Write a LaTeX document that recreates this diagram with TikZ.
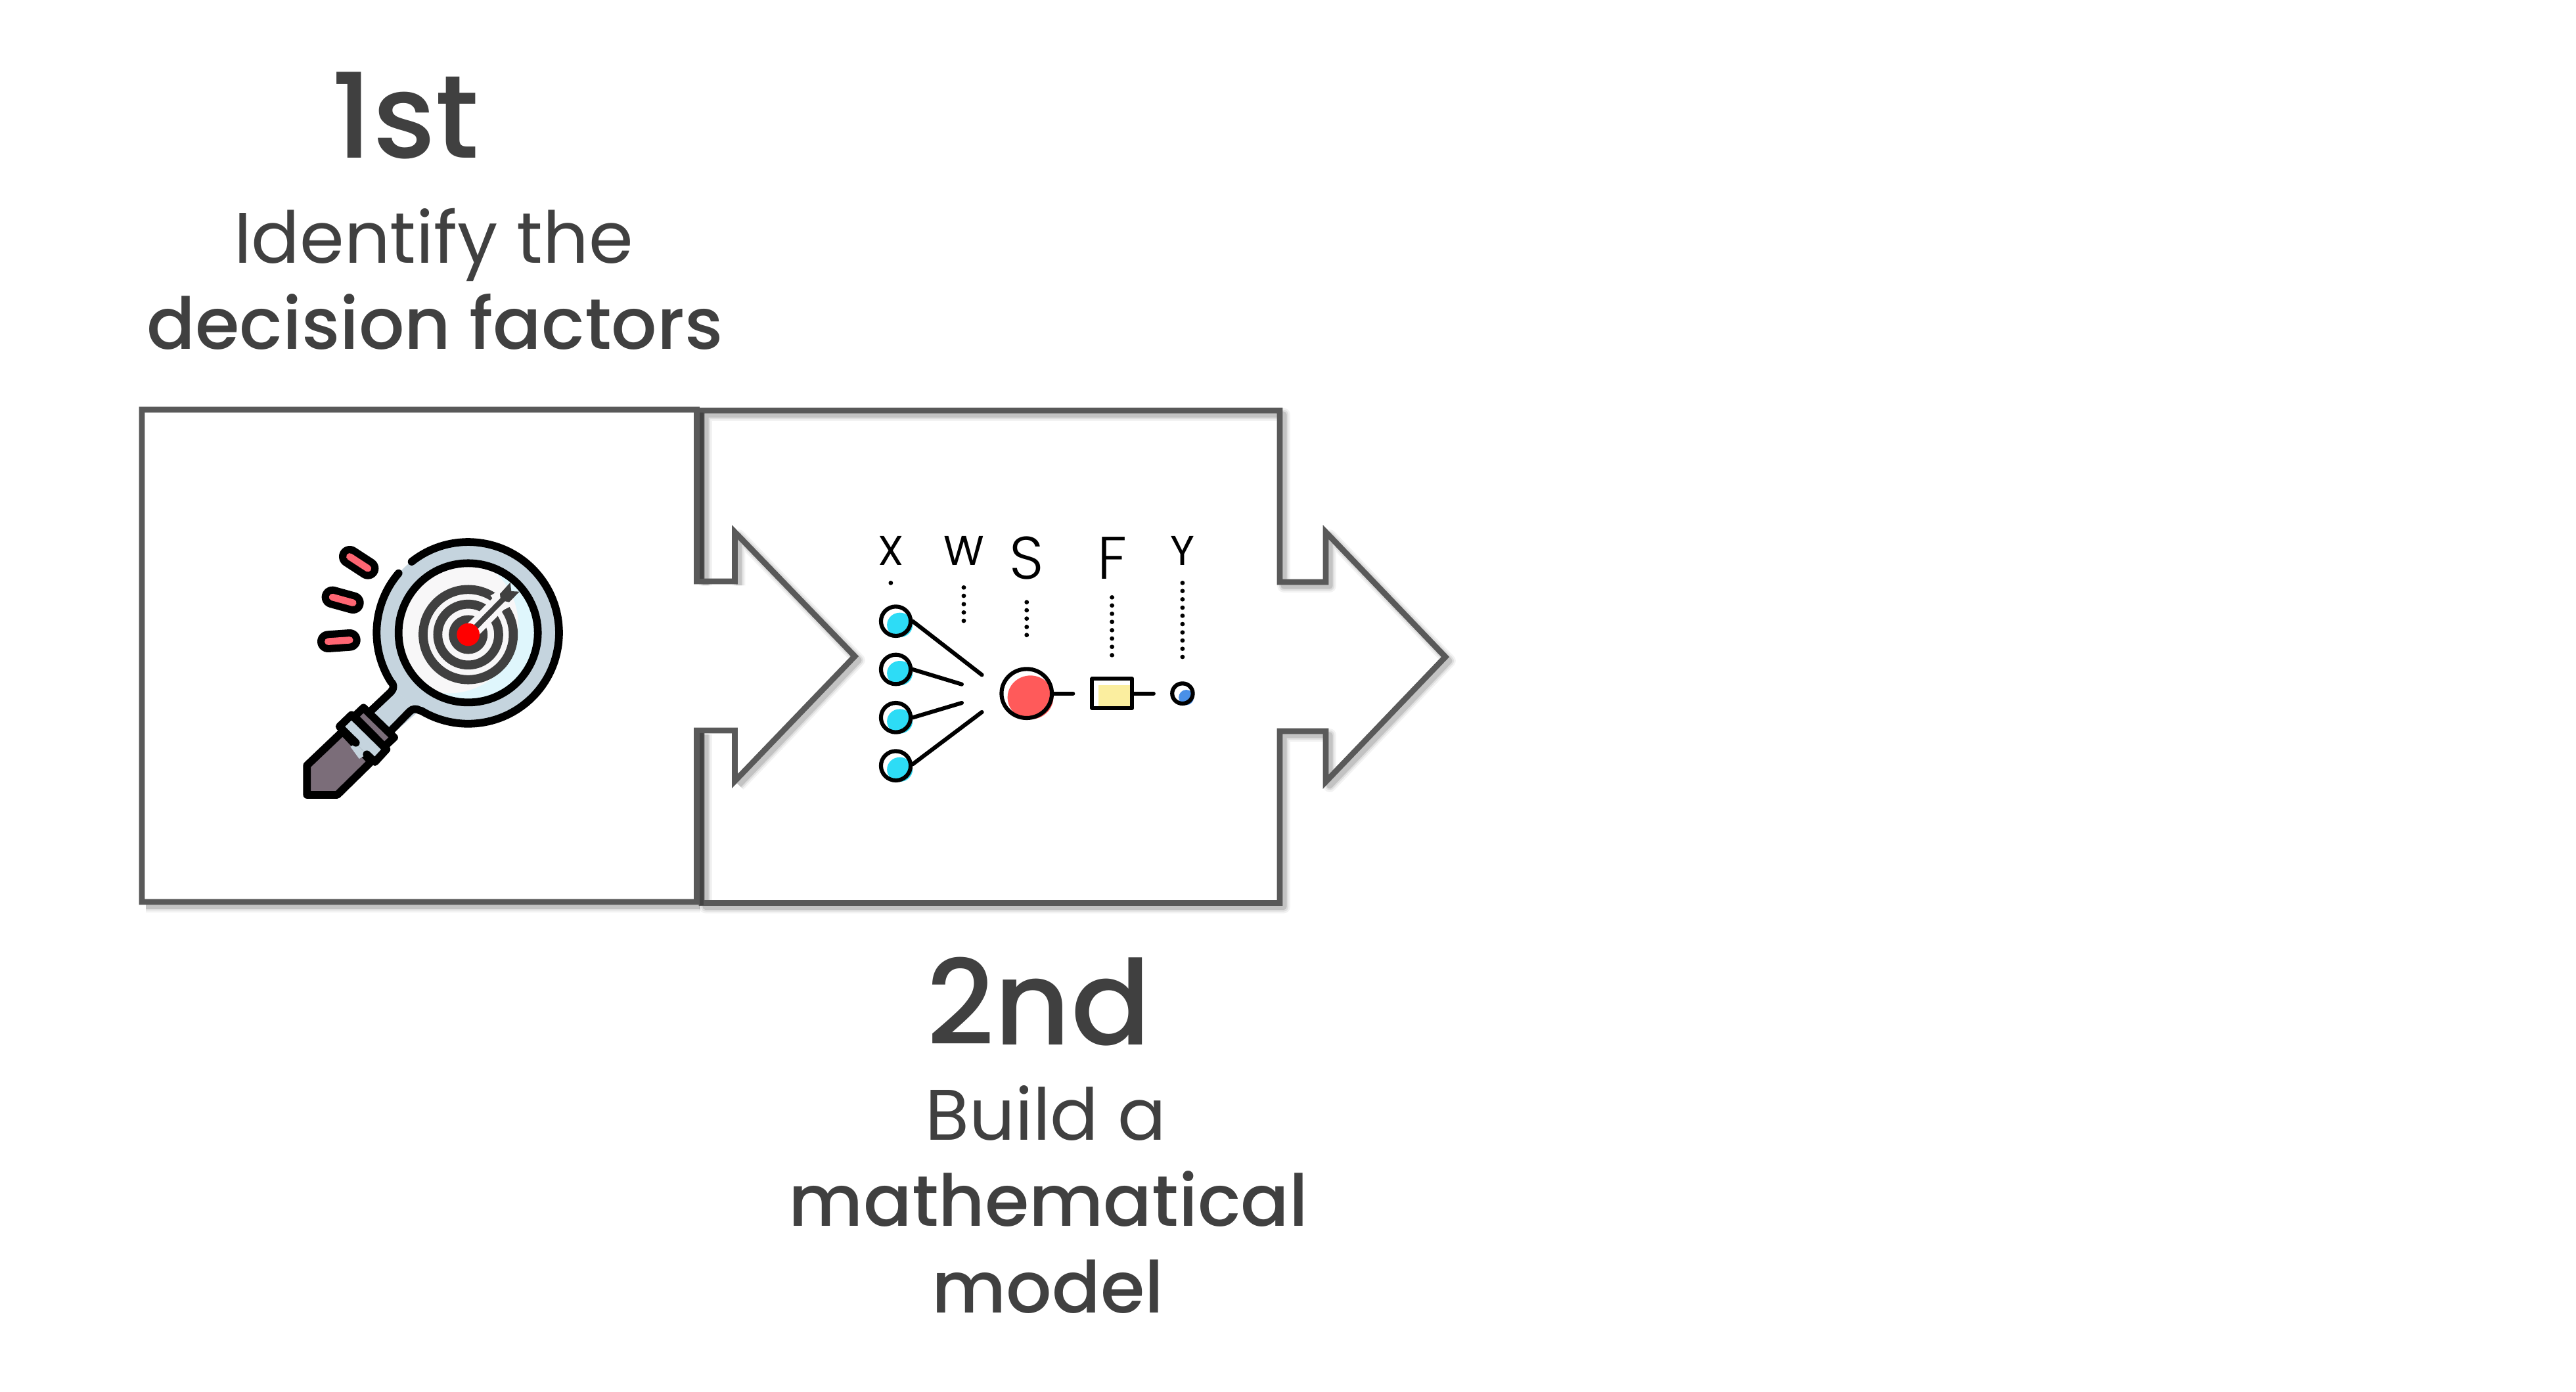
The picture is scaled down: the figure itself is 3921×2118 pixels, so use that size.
\documentclass[tikz,border=0pt]{standalone}
\usepackage{fontspec}
\setmainfont{Poppins}
\newfontfamily\plight{Poppins Light}
\newfontfamily\pmed{Poppins Medium}
\usetikzlibrary{calc}
\definecolor{boxc}{HTML}{595959}
\definecolor{overl}{HTML}{444444}
\definecolor{txt}{HTML}{404040}
\definecolor{steel}{HTML}{C5D4DE}
\definecolor{glassb}{HTML}{DFF6FC}
\definecolor{glassw}{HTML}{F8F7F8}
\definecolor{plum}{HTML}{7B6D79}
\definecolor{pill}{HTML}{FF6673}
\definecolor{cyanfill}{HTML}{2DDCF6}
\definecolor{redfill}{HTML}{FF5A5A}
\definecolor{yelfill}{HTML}{FBEE9F}
\definecolor{bluefill}{HTML}{4A90E8}
\tikzset{
  x=0.01cm,y=-0.01cm,
  boxline/.style={draw=boxc,line width=2.5pt,miter limit=10,line join=miter},
  shad1/.style={draw=black,opacity=.05,line width=5.6pt,line join=round},
  shad2/.style={draw=black,opacity=.08,line width=4pt,line join=round},
  shad3/.style={draw=black,opacity=.12,line width=2.6pt,line join=round},
  bigT/.style={anchor=base,text=txt,inner sep=0pt,font=\pmed\fontsize{51}{51}\selectfont},
  subR/.style={anchor=base,text=txt,inner sep=0pt,font=\fontsize{31}{31}\selectfont},
  subM/.style={anchor=base,text=txt,inner sep=0pt,font=\pmed\fontsize{31}{31}\selectfont},
  ink/.style={draw=black,line width=3.35pt,line cap=round,line join=round},
  net/.style={draw=black,line width=1.75pt,line cap=round,line join=round},
  smallL/.style={anchor=base,inner sep=0pt,text=black,font=\fontsize{18}{18}\selectfont},
  tallL/.style={anchor=base,inner sep=0pt,text=black,font=\plight\fontsize{26}{26}\selectfont},
}
\newcommand{\firstpath}{(216,623.5) -- (1060.5,623.5) -- (1060.5,885) -- (1118.5,885) -- (1118.5,810) -- (1301,999) -- (1118.5,1189) -- (1118.5,1112) -- (1060.5,1112) -- (1060.5,1373) -- (216,1373) -- cycle}
\newcommand{\secondpath}{(1068,885) -- (1068,625) -- (1948,625) -- (1948,886) -- (2018,886) -- (2018,810) -- (2200,1000) -- (2018,1190) -- (2018,1113) -- (1948,1113) -- (1948,1374.5) -- (1068,1374.5) -- (1068,1112)}
\begin{document}
\begin{tikzpicture}
\useasboundingbox (0,0) rectangle (3921,2118);
\fill[white] (0,0) rectangle (3921,2118);
% shadows
\foreach \s in {shad1,shad2,shad3}{
  \draw[\s,shift={(6,6)}] (1118.5,885) -- (1118.5,810) -- (1301,999) -- (1118.5,1189);
  \draw[\s,shift={(6,6)}] (216,1373) -- (1060,1373);
  \draw[\s,shift={(6,6)}] \secondpath;
}
% outlines
\draw[boxline] \firstpath;
\draw[boxline] \secondpath;
\draw[overl,line width=1.7pt] (1068,628) -- (1068,881);
\draw[overl,line width=1.7pt] (1068,1116) -- (1068,1378);
% magnifier, coordinates of the 3x crop
\begin{scope}[shift={(400,750)},x=0.01cm/3,y=-0.01cm/3]
  \fill[steel] (938,640) circle[radius=417];
  \fill[steel] (590,880) -- (710,1000) -- (560,1130) -- (470,1020) -- cycle;
  \begin{scope}
    \clip (938,640) circle[radius=318];
    \fill[glassb] (938,640) circle[radius=318];
    \fill[glassw] (850,600) circle[radius=316];
  \end{scope}
  \draw[ink] (938,640) circle[radius=318];
  \draw[ink] (680,315) arc[start angle=-128.4,end angle=121,radius=415];
  \draw[ink] (620,368) arc[start angle=-139.5,end angle=-212.3,radius=418] .. controls (600,875) and (600,895) .. (585,910) -- (495,995);
  \draw[ink] (718,995) .. controls (700,985) and (685,985) .. (670,1000) -- (590,1082);
  % target
  \foreach \r in {206,139,68}{\draw[txt,line width=3.9pt] (938,648) circle[radius=\r];}
  \draw[glassw,line width=7pt] (960,625) -- (1120,462);
  \fill[glassw] (1040,470) -- (1090,440) -- (1140,515) -- (1090,540) -- cycle;
  \draw[txt,line width=2.3pt] (960,626) -- (1100,484);
  \fill[txt] (1083,462) -- (1130,410) -- (1135,450) -- (1172,452) -- (1125,500) -- (1103,495) -- (1085,482) -- cycle;
  \fill[red] (938,648) circle[radius=52];
  % handle
  \fill[plum,draw=black,line width=3.35pt,line join=round] (365,1090) -- (202,1245) -- (202,1380) -- (340,1380) -- (495,1228) -- cycle;
  \fill[steel] (425,1145) -- (475,1195) -- (440,1215) -- (400,1160) -- cycle;
  \filldraw[fill=plum,draw=black,line width=3.35pt,line join=round] (460,982) -- (600,1118) -- (555,1160) -- (418,1022) -- cycle;
  \fill[steel] (405,1015) -- (565,1172) -- (512,1230) -- (475,1195) -- (425,1145) -- (350,1068) -- cycle;
  \draw[ink] (425,1142) -- (350,1068) -- (405,1015) -- (565,1172) -- (512,1230) -- (475,1195);
  % pills
  \foreach \a/\b in {{(397,292)}/{(480,346)},{(318,477)}/{(412,503)},{(298,680)}/{(397,673)}}{
    \draw[black,line width=9.3pt,line cap=round] \a -- \b;
    \draw[pill,line width=3pt,line cap=round] \a -- \b;
  }
\end{scope}
% network, coordinates of the crop (x 2.61, y 3)
\begin{scope}[shift={(1280,780)},x=0.01cm/2.61,y=-0.01cm/3]
  \foreach \yy in {497,717,937,1157}{
    \fill[cyanfill] (234,\yy+17) circle[x radius=51,y radius=56];
    \draw[net] (218,\yy) circle[x radius=59,y radius=67];
  }
  \draw[net] (285,497) -- (560,742);
  \draw[net] (285,717) -- (480,785);
  \draw[net] (285,937) -- (480,870);
  \draw[net] (285,1150) -- (560,912);
  \fill[redfill] (753,845) circle[x radius=91,y radius=100];
  \draw[net] (738,827) circle[x radius=100,y radius=112];
  \draw[net] (845,827) -- (922,827);
  \fill[yelfill] (1022,788) rectangle (1148,884);
  \draw[net] (998,760) rectangle (1157,894);
  \draw[net] (1165,827) -- (1242,827);
  \fill[bluefill] (1372,845) circle[x radius=30,y radius=35];
  \draw[net] (1357,827) circle[x radius=41,y radius=46];
  \foreach \yy in {322}{\fill (198,\yy) circle[x radius=9,y radius=10];}
  \foreach \yy in {343,381,419,457,495}{\fill (488,\yy) circle[x radius=9,y radius=10];}
  \foreach \yy in {410,447,485,523,560}{\fill (738,\yy) circle[x radius=9,y radius=10];}
  \foreach \yy in {388,425,463,500,538,576,614,652}{\fill (1077,\yy) circle[x radius=9,y radius=10];}
  \foreach \yy in {322,359,397,435,472,510,548,585,623,660}{\fill (1357,\yy) circle[x radius=9,y radius=10];}
  \node[smallL] (lx) at (198,240) {X};
  \node[smallL] (lw) at (488,240) {W};
  \node[tallL] (ls) at (738,305) {S};
  \node[tallL] (lf) at (1077,305) {F};
  \node[smallL] (ly) at (1357,240) {Y};
\end{scope}
% texts
\node[bigT] (t1) at (617,240) {1st};
\node[subR] (s1a) at (660,400) {Identify the};
\node[subM] (s1b) at (662,531) {decision factors};
\node[bigT] (t2) at (1581,1590) {2nd};
\node[subR] (s2a) at (1592,1735) {Build a};
\node[subM] (s2b) at (1596,1866) {mathematical};
\node[subM] (s2c) at (1595,1998) {model};
\end{tikzpicture}
\end{document}
